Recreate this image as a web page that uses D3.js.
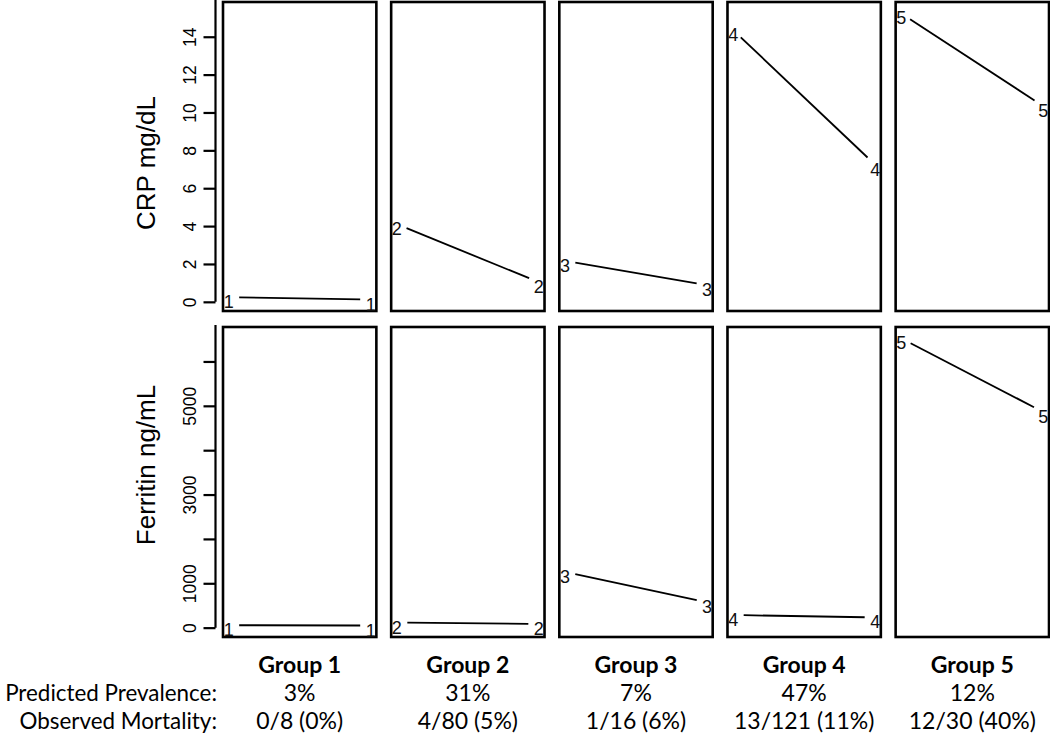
<!DOCTYPE html>
<html>
<head>
<meta charset="utf-8">
<script src="https://cdn.jsdelivr.net/npm/d3@7"></script>
<style>
  html, body { margin: 0; padding: 0; background: #fff; }
  svg { display: block; }
</style>
</head>
<body>
<svg id="chart" width="1050" height="738"></svg>
<script>
// ---------------- data ----------------
const groups = ["Group 1", "Group 2", "Group 3", "Group 4", "Group 5"];
const groupIds = ["1", "2", "3", "4", "5"];
const timePoints = [1, 2];
const crpStart = [0.24, 4.10, 2.17, 14.35, 15.23];
const crpEnd = [0.12, 1.04, 0.88, 7.24, 10.33];
const ferritinStart = [55, 115, 1258, 285, 6518];
const ferritinEnd = [48, 85, 568, 230, 4860];
const crpTicks = [0, 2, 4, 6, 8, 10, 12, 14];
const ferritinTicks = [0, 1000, 2000, 3000, 4000, 5000, 6000];
const ferritinTickLabels = [0, 1000, 3000, 5000];
const prevalence = ["3%", "31%", "7%", "47%", "12%"];
const mortality = ["0/8 (0%)", "4/80 (5%)", "1/16 (6%)", "13/121 (11%)", "12/30 (40%)"];
const rowLabels = ["Predicted Prevalence:", "Observed Mortality:"];
const yTitles = ["CRP mg/dL", "Ferritin ng/mL"];

// ---------------- layout ----------------
const svg = d3.select("#chart");
const axisX = 215.5;
const rows = [
  { top: 2, bottom: 311, start: crpStart, end: crpEnd, ticks: crpTicks, labels: crpTicks, title: yTitles[0], titleY: 163 },
  { top: 327, bottom: 637, start: ferritinStart, end: ferritinEnd, ticks: ferritinTicks, labels: ferritinTickLabels, title: yTitles[1], titleY: 465 }
];
const xBand = d3.scaleBand().domain(groups).range([223, 1049]).paddingInner(0.088);
const sans = "Liberation Sans, Arial, Helvetica, sans-serif";
const ptFont = 18;
const gap = 10.5;

function rExpand(ext) {
  const r = ext[1] - ext[0];
  return [ext[0] - 0.04 * r, ext[1] + 0.04 * r];
}

rows.forEach(row => {
  const all = row.start.concat(row.end);
  const y = d3.scaleLinear().domain(rExpand(d3.extent(all))).range([row.bottom, row.top]);

  // y axis
  const ax = svg.append("g").attr("transform", `translate(${axisX},0)`)
    .call(d3.axisLeft(y).tickValues(row.ticks).tickSize(12)
      .tickFormat(d => row.labels.includes(d) ? String(d) : ""));
  ax.select(".domain").remove();
  ax.append("line").attr("x1", 0).attr("x2", 0)
    .attr("y1", y(row.ticks[0])).attr("y2", row.top - 2)
    .attr("stroke", "#000").attr("stroke-width", 2.2);
  ax.selectAll(".tick line").attr("stroke", "#000").attr("stroke-width", 2.2);
  ax.selectAll(".tick text")
    .attr("x", null).attr("dy", null)
    .attr("transform", "translate(-20,0) rotate(-90)")
    .attr("text-anchor", "middle")
    .attr("fill", "#000")
    .style("font-family", sans).style("font-size", "17.5px");

  // y title
  svg.append("text")
    .attr("transform", `translate(155,${row.titleY}) rotate(-90)`)
    .attr("text-anchor", "middle")
    .style("font-family", sans).style("font-size", "26px")
    .text(row.title);

  groups.forEach((g, i) => {
    const x0 = xBand(g), bw = xBand.bandwidth();
    const x = d3.scaleLinear().domain(rExpand([timePoints[0], timePoints[1]])).range([x0, x0 + bw]);
    const p1 = [x(timePoints[0]), y(row.start[i])];
    const p2 = [x(timePoints[1]), y(row.end[i])];
    const dx = p2[0] - p1[0], dy = p2[1] - p1[1];
    const len = Math.hypot(dx, dy);
    const ux = dx / len, uy = dy / len;

    // frame
    svg.append("rect")
      .attr("x", x0).attr("y", row.top)
      .attr("width", bw).attr("height", row.bottom - row.top)
      .attr("fill", "none").attr("stroke", "#000").attr("stroke-width", 2.6);

    // line (type = "b" style gap)
    svg.append("line")
      .attr("x1", p1[0] + ux * gap).attr("y1", p1[1] + uy * gap)
      .attr("x2", p2[0] - ux * gap).attr("y2", p2[1] - uy * gap)
      .attr("stroke", "#000").attr("stroke-width", 1.8);

    // point labels
    [p1, p2].forEach(p => {
      svg.append("text")
        .attr("x", p[0]).attr("y", p[1] + 5)
        .attr("text-anchor", "middle")
        .attr("dominant-baseline", "central")
        .attr("fill", "#111")
        .style("font-family", sans).style("font-size", ptFont + "px")
        .text(groupIds[i]);
    });
  });
});

// ---------------- bottom table ----------------
const tFont = "Lato, 'Open Sans', sans-serif";
const tSize = "23px";
groups.forEach((g, i) => {
  const cx = xBand(g) + xBand.bandwidth() / 2;
  svg.append("text").attr("x", cx).attr("y", 673)
    .attr("text-anchor", "middle")
    .style("font-family", tFont).style("font-size", tSize).style("font-weight", "bold")
    .text(g);
  svg.append("text").attr("x", cx).attr("y", 701)
    .attr("text-anchor", "middle")
    .style("font-family", tFont).style("font-size", tSize)
    .text(prevalence[i]);
  svg.append("text").attr("x", cx).attr("y", 729)
    .attr("text-anchor", "middle")
    .style("font-family", tFont).style("font-size", tSize)
    .text(mortality[i]);
});
rowLabels.forEach((t, j) => {
  svg.append("text").attr("x", 217).attr("y", j === 0 ? 701 : 729)
    .attr("text-anchor", "end")
    .style("font-family", tFont).style("font-size", "22.4px")
    .text(t);
});
</script>
</body>
</html>
